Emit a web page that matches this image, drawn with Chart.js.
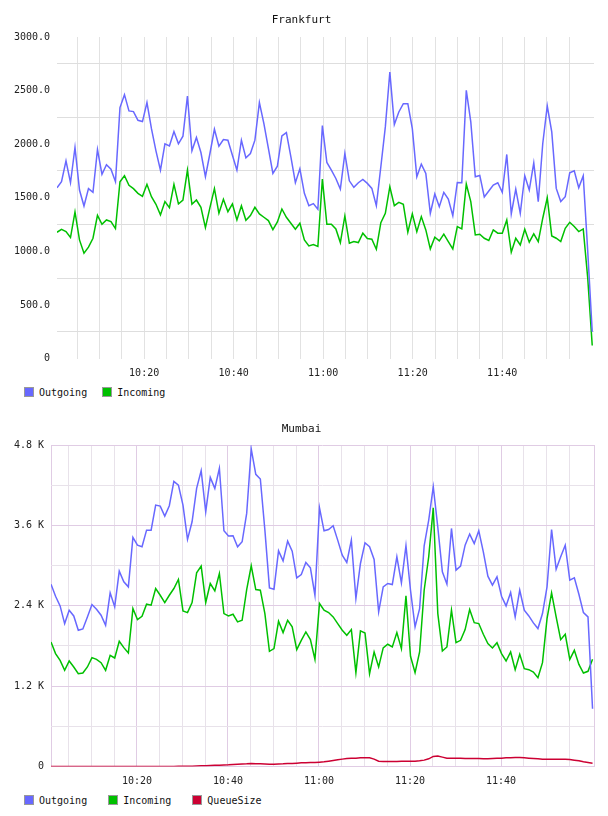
<!DOCTYPE html>
<html>
<head>
<meta charset="utf-8">
<script src="https://cdn.jsdelivr.net/npm/chart.js@4.4.0/dist/chart.umd.min.js"></script>
<style>
  body { margin: 0; background: #fff; }
  canvas { display: block; }
  .legend { position: relative; height: 28px; font: 10px 'DejaVu Sans Mono', monospace; color: #111; }
  .legend .row { position: absolute; left: 24px; top: 7px; display: flex; align-items: center; height: 10px; }
  .legend .item { display: flex; align-items: center; }
  .legend .box { width: 8px; height: 8px; border: 1px solid #999; margin-right: 5px; }
</style>
</head>
<body>
<canvas id="frankfurt" width="608" height="380"></canvas>
<div class="legend" id="frankfurtLegend"></div>
<canvas id="mumbai" width="608" height="380"></canvas>
<div class="legend" id="mumbaiLegend"></div>
<script>
// values, one sample per minute
const frOutgoing = [1594,1650,1845,1640,1969,1572,1423,1585,1550,1950,
  1718,1808,1767,1650,2341,2462,2310,2304,2223,2211,
  2388,2145,1938,1758,2003,1984,2118,2003,2074,2449,
  1938,2062,1922,1696,1913,2139,1981,2043,2037,1897,
  1758,2037,1872,1913,2037,2388,2192,1960,1727,1795,
  2077,2108,1882,1640,1770,1541,1426,1445,1392,2173,
  1829,1758,1680,1581,1913,1658,1597,1640,1671,1634,
  1587,1426,1789,2161,2672,2183,2300,2378,2378,2145,
  1696,1814,1727,1355,1535,1417,1550,1488,1333,1643,
  1640,2502,2208,1696,1708,1507,1563,1618,1640,1550,
  1904,1349,1581,1355,1705,1572,1826,1464,2006,2356,
  2114,1587,1464,1510,1733,1752,1594,1705,1000,250];
const frIncoming = [1178,1206,1184,1129,1367,1107,983,1039,1122,1336,
  1253,1293,1278,1212,1650,1705,1616,1585,1541,1513,
  1625,1510,1439,1340,1464,1408,1625,1442,1479,1758,
  1439,1479,1411,1222,1408,1585,1355,1485,1370,1442,
  1293,1426,1290,1333,1411,1349,1318,1287,1203,1274,
  1395,1318,1262,1206,1262,1107,1051,1063,1045,1674,
  1253,1253,1209,1082,1330,1076,1091,1082,1169,1119,
  1113,1020,1268,1355,1603,1426,1457,1439,1178,1349,
  1184,1324,1200,1023,1132,1098,1160,1091,1023,1231,
  1209,1628,1464,1153,1160,1122,1101,1200,1169,1169,
  1293,992,1122,1060,1206,1085,1163,1091,1309,1500,
  1144,1122,1091,1215,1271,1231,1184,1209,750,121];

const muOutgoing = [2722,2542,2398,2134,2333,2248,2034,2054,2233,2418,
  2348,2258,2109,2592,2383,2916,2757,2682,3420,3305,
  3280,3529,3529,3903,3888,3739,3893,4257,4202,3903,
  3390,3654,4152,4417,3804,4317,4152,4452,3519,3440,
  3445,3280,3355,3779,4741,4362,4292,3529,2667,2647,
  3220,3071,3365,3215,2817,2866,3046,2966,2557,3863,
  3519,3539,3594,3380,3156,3046,3380,2507,3031,3340,
  3280,3091,2308,2682,2732,2717,3131,2742,3295,2632,
  2084,2358,3295,3679,4177,3569,2906,2722,3554,2931,
  2991,3305,3470,3330,3519,3205,2841,2707,2831,2542,
  2398,2597,2233,2632,2333,2248,2144,2059,2283,2682,
  3539,2946,3131,3305,2782,2817,2572,2298,2233,862];
const muIncoming = [1859,1685,1585,1436,1575,1486,1386,1396,1486,1625,
  1600,1550,1436,1660,1620,1869,1775,1695,2358,2193,
  2243,2423,2408,2657,2557,2448,2557,2657,2792,2323,
  2298,2448,2891,2991,2448,2732,2622,2881,2283,2248,
  2273,2159,2183,2642,2996,2642,2632,2283,1720,1760,
  2168,1999,2183,2084,1745,1884,2009,1894,1600,2433,
  2333,2298,2233,2134,2034,1959,2044,1401,2024,1994,
  1386,1710,1486,1770,1825,1785,1999,1760,2547,1645,
  1401,1710,2632,3131,3863,2283,1725,1785,2333,1849,
  1884,2044,2343,2148,2134,1974,1834,1770,1849,1685,
  1575,1710,1446,1675,1461,1446,1411,1326,1550,2208,
  2592,2233,1894,1974,1600,1735,1525,1396,1421,1600];
const muQueue = [0,0,0,0,0,0,0,0,0,0,
  0,0,0,0,0,0,0,0,0,0,
  0,0,0,0,0,0,0,0,2,3,
  4,5,7,10,12,15,18,20,22,25,
  30,35,38,40,45,42,40,38,35,35,
  38,40,45,45,50,55,55,60,60,65,
  70,80,90,100,110,120,125,125,130,130,
  130,110,80,75,75,75,75,78,78,80,
  80,85,95,115,150,155,140,125,125,125,
  125,120,120,120,120,115,115,120,125,125,
  130,130,135,135,130,125,120,115,110,110,
  110,110,110,110,105,95,85,70,60,50];

// time axis in minutes after 10:00
const frStart = 0.53, frStep = 1.005, frRange = [0.53, 120.52];
const muStart = 1.11, muStep = 1, muRange = [1.11, 120.43];
const timeTicks = [5,10,15,20,25,30,35,40,45,50,55,60,65,70,75,80,85,90,95,100,105,110,115];

const font = { family: 'DejaVu Sans Mono', size: 10 };
const blue = 'rgb(104,104,255)';
const green = 'rgb(0,192,0)';
const red = 'rgb(204,0,51)';

function hhmm(m) {
    const h = 10 + Math.floor(m / 60);
    const mm = Math.round(m % 60);
    return h + ':' + (mm < 10 ? '0' : '') + mm;
}

function series(values, start, step) {
    return values.map((v, i) => ({ x: start + i * step, y: v }));
}

// simple html legend under each canvas
function drawLegend(id, datasets, gap) {
    const row = document.createElement('div');
    row.className = 'row';
    datasets.forEach((ds, i) => {
        const item = document.createElement('span');
        item.className = 'item';
        if (i < datasets.length - 1) item.style.marginRight = gap + 'px';
        const box = document.createElement('span');
        box.className = 'box';
        box.style.background = ds.borderColor;
        item.appendChild(box);
        item.appendChild(document.createTextNode(ds.label));
        row.appendChild(item);
    });
    document.getElementById(id).appendChild(row);
}

function makeChart(id, title, datasets, o) {
    drawLegend(id + 'Legend', datasets, o.legendGap);
    return new Chart(document.getElementById(id), {
        type: 'line',
        data: { datasets: datasets },
        options: {
            responsive: false,
            animation: false,
            devicePixelRatio: 1,
            layout: { padding: { left: 9, right: 14, top: 0, bottom: 0 } },
            elements: { point: { radius: 0 }, line: { borderWidth: 1.5, tension: 0 } },
            plugins: {
                tooltip: { enabled: false },
                legend: { display: false },
                title: {
                    display: true,
                    text: title,
                    color: '#111',
                    font: { family: 'DejaVu Sans Mono', size: 11, weight: 'normal' },
                    padding: { top: o.titleTop, bottom: 23.8 - o.titleTop }
                }
            },
            scales: {
                x: {
                    type: 'linear',
                    min: o.range[0],
                    max: o.range[1],
                    afterBuildTicks: s => { s.ticks = o.xTicks.map(v => ({ value: v })); },
                    afterFit: s => { s.height = 21.5; },
                    border: { display: false },
                    grid: { drawTicks: false, color: o.xGrid, lineWidth: 1 },
                    ticks: {
                        font: font, color: '#222', padding: 9, autoSkip: false, maxRotation: 0,
                        callback: v => (timeTicks.includes(v) && v % 20 === 0) ? hhmm(v) : ''
                    }
                },
                y: {
                    min: 0,
                    max: o.yMax,
                    afterFit: s => { s.width = o.yWidth; },
                    border: { display: false },
                    grid: { drawTicks: false, color: o.yGrid, lineWidth: 1 },
                    ticks: {
                        font: font, color: '#222', padding: 7, autoSkip: false,
                        stepSize: o.yStep,
                        callback: o.yLabel
                    }
                }
            }
        }
    });
}

makeChart('frankfurt', 'Frankfurt', [
    { label: 'Outgoing', data: series(frOutgoing, frStart, frStep), borderColor: blue, backgroundColor: blue },
    { label: 'Incoming', data: series(frIncoming, frStart, frStep), borderColor: green, backgroundColor: green }
], {
    legendGap: 15, titleTop: 13.4, yWidth: 48,
    range: frRange, xTicks: timeTicks, yMax: 3000, yStep: 250,
    xGrid: 'rgb(226,226,226)',
    yGrid: c => c.tick.value % 500 === 0 ? 'rgba(0,0,0,0)' : 'rgb(222,222,222)',
    yLabel: v => v % 500 !== 0 ? '' : (v === 0 ? '0' : v.toFixed(1))
});

const muMajor = 'rgb(224,204,228)';
const muMinor = 'rgb(232,226,234)';
makeChart('mumbai', 'Mumbai', [
    { label: 'Outgoing', data: series(muOutgoing, muStart, muStep), borderColor: blue, backgroundColor: blue },
    { label: 'Incoming', data: series(muIncoming, muStart, muStep), borderColor: green, backgroundColor: green },
    { label: 'QueueSize', data: series(muQueue, muStart, muStep), borderColor: red, backgroundColor: red }
], {
    legendGap: 21, titleTop: 14.4, yWidth: 42,
    range: muRange, xTicks: [muRange[0]].concat(timeTicks, [muRange[1]]), yMax: 4800, yStep: 600,
    xGrid: c => (!timeTicks.includes(c.tick.value) || c.tick.value % 20 === 0) ? muMajor : muMinor,
    yGrid: c => c.tick.value % 1200 === 0 ? muMajor : muMinor,
    yLabel: v => v % 1200 !== 0 ? '' : (v === 0 ? '0' : (v / 1000).toFixed(1) + ' K')
});
</script>
</body>
</html>
